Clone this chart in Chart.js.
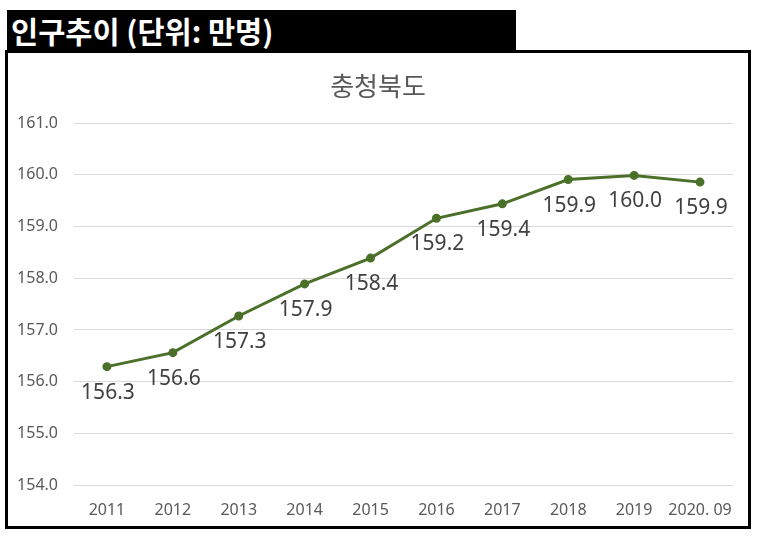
<!DOCTYPE html>
<html>
<head>
<meta charset="utf-8">
<script src="https://cdn.jsdelivr.net/npm/chart.js@4"></script>
<style>
  body { margin: 0; background: #fff; width: 761px; height: 540px; position: relative; overflow: hidden; }
  #head { position: absolute; left: 7px; top: 10px; width: 509px; height: 40px; background: #000; color: #fff;
          font: bold 29.5px "Noto Sans CJK KR", sans-serif; line-height: 40px; padding-left: 4px; box-sizing: border-box; }
  #box { position: absolute; left: 5px; top: 50px; width: 746px; height: 479px; border: 3px solid #000; box-sizing: border-box; }
</style>
</head>
<body>
<div id="head">인구추이 (단위: 만명)</div>
<div id="box"><canvas id="lineChart"></canvas></div>
<script>
const years = ['2011', '2012', '2013', '2014', '2015', '2016', '2017', '2018', '2019', '2020. 09'];
const population = [156.29, 156.56, 157.27, 157.89, 158.39, 159.16, 159.44, 159.91, 159.99, 159.86];
const chartTitle = '충청북도';
const lineColor = '#4a7029';

// value labels under each point, like excel data labels
const pointLabels = {
  id: 'pointLabels',
  afterDatasetsDraw(chart) {
    const ctx = chart.ctx;
    const meta = chart.getDatasetMeta(0);
    ctx.save();
    ctx.font = '21px "Noto Sans", sans-serif';
    ctx.fillStyle = '#404040';
    ctx.textAlign = 'center';
    ctx.textBaseline = 'middle';
    meta.data.forEach((pt, i) => {
      ctx.fillText(population[i].toFixed(1), pt.x + 1, pt.y + 26);
    });
    ctx.restore();
  }
};

const ctx = document.getElementById('lineChart');
const data = {
  labels: years,
  datasets: [{
    label: '인구',
    data: population,
    borderColor: lineColor,
    backgroundColor: lineColor,
    borderWidth: 3,
    pointRadius: 3,
    pointHoverRadius: 3,
    tension: 0
  }]
};

const config = {
  type: 'line',
  data: data,
  plugins: [pointLabels],
  options: {
    responsive: true,
    maintainAspectRatio: false,
    animation: false,
    layout: { padding: { left: 6, right: 6, top: 0, bottom: 5 } },
    plugins: {
      legend: { display: false },
      tooltip: { enabled: false },
      title: {
        display: true,
        text: chartTitle,
        color: '#595959',
        font: { family: '"Noto Sans CJK KR", sans-serif', size: 26, weight: 'normal' },
        padding: { top: 18, bottom: 21 }
      }
    },
    scales: {
      x: {
        offset: true,
        grid: { display: false, drawTicks: false },
        border: { display: false },
        afterFit(scale) { scale.height = 36; },
        ticks: { color: '#595959', font: { family: '"Noto Sans", sans-serif', size: 16 }, padding: 16,
                 maxRotation: 0, autoSkip: false }
      },
      y: {
        min: 154,
        max: 161,
        grid: { color: '#d9d9d9', drawTicks: false },
        border: { display: false },
        afterFit(scale) { scale.width = 60; },
        ticks: {
          stepSize: 1,
          padding: 16,
          color: '#595959',
          font: { family: '"Noto Sans", sans-serif', size: 16 },
          callback: v => v.toFixed(1)
        }
      }
    }
  }
};
new Chart(ctx, config);
</script>
</body>
</html>
